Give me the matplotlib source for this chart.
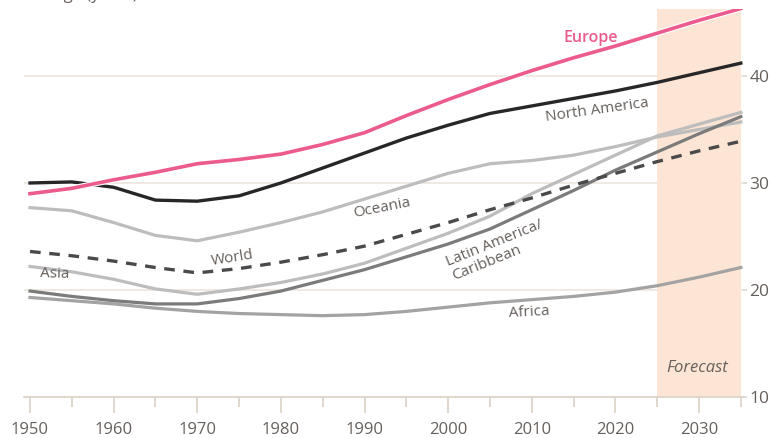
import matplotlib
matplotlib.use("Agg")
import matplotlib.pyplot as plt
import matplotlib.patheffects as pe
from matplotlib.ticker import FixedLocator

years = [1950, 1955, 1960, 1965, 1970, 1975, 1980, 1985, 1990, 1995,
         2000, 2005, 2010, 2015, 2020, 2025, 2030, 2035]
europe = [29.0, 29.5, 30.3, 31.0, 31.8, 32.2, 32.7, 33.6, 34.7, 36.3,
          37.8, 39.2, 40.5, 41.7, 42.8, 44.0, 45.2, 46.3]
north_america = [30.0, 30.1, 29.6, 28.4, 28.3, 28.8, 30.0, 31.4, 32.8, 34.2,
                 35.4, 36.5, 37.2, 37.9, 38.6, 39.4, 40.3, 41.2]
oceania = [27.7, 27.4, 26.3, 25.1, 24.6, 25.4, 26.3, 27.3, 28.5, 29.7,
           30.9, 31.8, 32.1, 32.6, 33.4, 34.3, 35.0, 35.7]
world = [23.6, 23.2, 22.7, 22.1, 21.6, 22.0, 22.6, 23.3, 24.1, 25.2,
         26.3, 27.5, 28.6, 29.8, 30.9, 32.0, 33.0, 33.9]
asia = [22.2, 21.7, 21.0, 20.1, 19.6, 20.1, 20.7, 21.5, 22.5, 23.9,
        25.3, 26.9, 29.0, 30.8, 32.6, 34.4, 35.5, 36.6]
latin_america = [19.9, 19.4, 19.0, 18.7, 18.7, 19.2, 19.9, 20.9, 21.9, 23.1,
                 24.3, 25.7, 27.5, 29.3, 31.2, 32.9, 34.6, 36.2]
africa = [19.3, 19.0, 18.7, 18.3, 18.0, 17.8, 17.7, 17.6, 17.7, 18.0,
          18.4, 18.8, 19.1, 19.4, 19.8, 20.4, 21.2, 22.1]
forecast_start, forecast_end = 2025, 2035
y_ticks = [10, 20, 30, 40]
x_ticks = [1950, 1960, 1970, 1980, 1990, 2000, 2010, 2020, 2030]

plt.rcParams['font.family'] = ['Open Sans', 'DejaVu Sans']

W, H = 772, 438
fig = plt.figure(figsize=(W / 100, H / 100), dpi=100)
ax = fig.add_axes([24 / W, 41 / H, 719 / W, 388 / H])

grid_c = '#ebe3dc'
axis_c = '#ddd3ca'
text_c = '#66605c'

ax.axvspan(forecast_start, forecast_end, color='#fce5d5', zorder=1, lw=0)
for yv in y_ticks[1:]:
    ax.axhline(yv, color=grid_c, lw=1.1, zorder=0.5)

halo = [pe.Stroke(linewidth=4.2, foreground='white'), pe.Normal()]
ax.plot(years, africa, color='#a3a3a3', lw=2.3, zorder=3)
ax.plot(years, latin_america, color='#7b7b7b', lw=2.3, zorder=3.2)
ax.plot(years, asia, color='#bdbdbd', lw=2.3, zorder=3.1)
ax.plot(years, oceania, color='#bdbdbd', lw=2.3, zorder=3.1)
ax.plot(years, world, color='#4a4a4a', lw=2.4, ls=(0, (3.2, 2.6)), zorder=3.3)
ax.plot(years, north_america, color='#27272a', lw=2.4, zorder=3.4)
ax.plot(years, europe, color='#ec5b8e', lw=2.6, zorder=3.5, path_effects=halo)

ax.set_xlim(1949.28, 2035.26)
ax.set_ylim(10, 46.26)

for s in ['top', 'left', 'right']:
    ax.spines[s].set_visible(False)
ax.spines['bottom'].set_color(axis_c)
ax.spines['bottom'].set_linewidth(1.3)

ax.xaxis.set_major_locator(FixedLocator(x_ticks))
ax.xaxis.set_minor_locator(FixedLocator([y + 5 for y in x_ticks]))
ax.tick_params(axis='x', which='major', length=11.5, width=1.3, color=axis_c,
               pad=6.5, labelsize=12, labelcolor=text_c)
ax.tick_params(axis='x', which='minor', length=7.2, width=1.3, color=axis_c)

ax.yaxis.tick_right()
ax.set_yticks(y_ticks)
ax.tick_params(axis='y', which='major', length=3, width=1.1, color=axis_c,
               pad=1.5, labelsize=12.5, labelcolor=text_c)

lab = dict(color=text_c, fontsize=11, ha='center', va='center', zorder=5)
ax.text(2017.1, 43.55, 'Europe', color='#ec5b8e', fontsize=11.5, fontweight='semibold',
        ha='center', va='center', zorder=5)
ax.text(2017.8, 36.8, 'North America', rotation=8, **lab)
ax.text(1992.1, 27.7, 'Oceania', rotation=11, **lab)
ax.text(1974.2, 23.0, 'World', rotation=9, **lab)
ax.text(1952.9, 21.5, 'Asia', rotation=-2, **lab)
ax.text(2005.9, 23.7, 'Latin America/\nCaribbean', rotation=22, multialignment='left',
        linespacing=1.0, **lab)
ax.text(2009.7, 17.9, 'Africa', rotation=3, **lab)
ax.text(2029.8, 12.7, 'Forecast', style='italic', color=text_c, fontsize=12,
        ha='center', va='center', zorder=5)

fig.text(-8 / W, 1 + 1.5 / H, 'Median age (years)', color=text_c, fontsize=12,
         ha='left', va='baseline')

fig.savefig('out.png', dpi=100)
